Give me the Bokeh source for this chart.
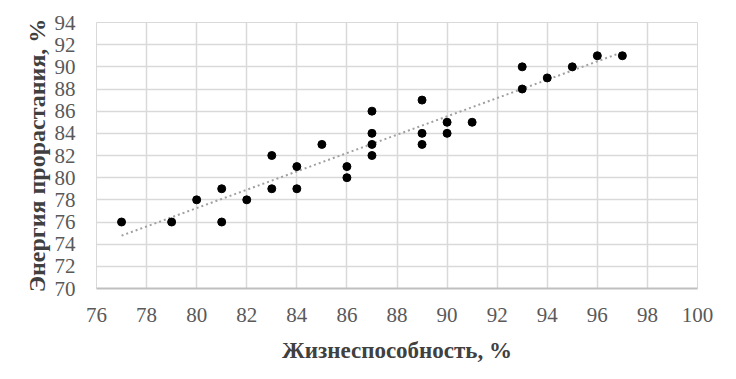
import numpy as np
from bokeh.plotting import figure
from bokeh.models import Range1d, FixedTicker
from bokeh.embed import file_html
from bokeh.resources import INLINE

viability = [77, 79, 80, 81, 81, 82, 83, 83, 84, 84, 85, 86, 86, 87, 87, 87, 87,
             89, 89, 89, 90, 90, 91, 93, 93, 94, 95, 96, 97]
energy = [76, 76, 78, 79, 76, 78, 82, 79, 81, 79, 83, 81, 80, 86, 84, 83, 82,
          87, 84, 83, 85, 84, 85, 90, 88, 89, 90, 91, 91]
x_ticks = list(range(76, 101, 2))
y_ticks = list(range(70, 95, 2))

x_title = "Жизнеспособность, %"
y_title = "Энергия прорастания, %"

FONT = "Liberation Serif"

p = figure(width=720, height=371, output_backend="svg", toolbar_location=None,
           x_range=Range1d(76, 100), y_range=Range1d(70, 94),
           min_border_left=96, min_border_right=23, min_border_top=22, min_border_bottom=83)
p.background_fill_color = "white"
p.border_fill_color = "white"
p.outline_line_color = "#d9d9d9"

p.xaxis.ticker = FixedTicker(ticks=x_ticks)
p.yaxis.ticker = FixedTicker(ticks=y_ticks)
for ax in (p.xaxis, p.yaxis):
    ax.major_tick_line_color = None
    ax.minor_tick_line_color = None
    ax.major_tick_out = 0
    ax.major_label_text_font = FONT
    ax.major_label_text_font_size = "21px"
    ax.major_label_text_color = "#595959"
    ax.axis_label_text_font = FONT
    ax.axis_label_text_font_style = "bold"
    ax.axis_label_text_color = "#404040"

p.xaxis.axis_label_text_font_size = "23px"
p.yaxis.axis_label_text_font_size = "24px"
p.xaxis.axis_line_color = "#bfbfbf"
p.xaxis.axis_line_width = 2
p.yaxis.axis_line_color = None
p.xaxis.major_label_standoff = 19
p.yaxis.major_label_standoff = 21
p.xaxis.axis_label = x_title
p.yaxis.axis_label = y_title
p.xaxis.axis_label_standoff = 13
p.yaxis.axis_label_standoff = 2

p.xgrid.grid_line_color = "#d9d9d9"
p.ygrid.grid_line_color = "#d9d9d9"
p.xgrid.grid_line_width = 1.5
p.ygrid.grid_line_width = 1.5

# linear trend line
k, b = np.polyfit(viability, energy, 1)
xs = np.array([min(viability), max(viability)])
p.line(xs, k * xs + b, line_color="#a0a0a0", line_width=2, line_dash="2 3")

p.scatter(viability, energy, size=8, color="black")

open("out.html", "w").write(file_html(p, INLINE))
